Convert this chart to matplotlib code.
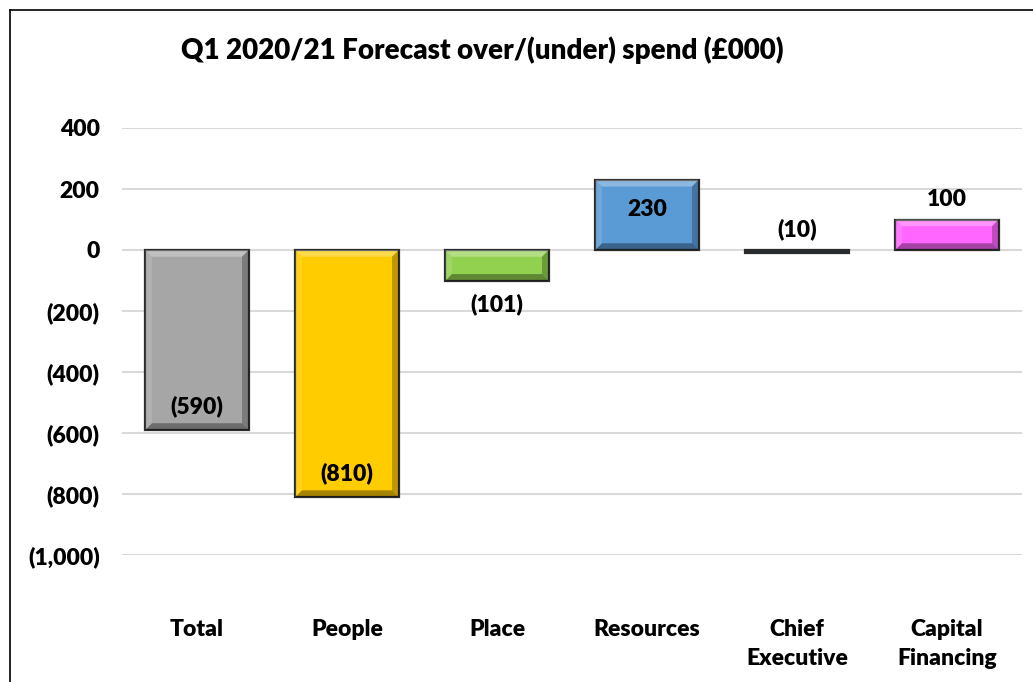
import matplotlib.pyplot as plt
from matplotlib.patches import Polygon
from matplotlib.lines import Line2D

# data
categories = ["Total", "People", "Place", "Resources", "Chief\nExecutive", "Capital\nFinancing"]
values = [-590, -810, -101, 230, -10, 100]
colors = ["#A6A6A6", "#FFCC00", "#92D050", "#5B9BD5", "#1F2A36", "#FF66FF"]
yticks = [400, 200, 0, -200, -400, -600, -800, -1000]
# where each value label sits relative to the bar end (pixels, + is up)
label_offsets = [24, 24, -23, -30, 24, 20]

plt.rcParams['font.family'] = ['Lato', 'DejaVu Sans']

W, H = 1033, 682
fig = plt.figure(figsize=(W / 100, H / 100), dpi=100)
ax = fig.add_axes([122 / W, 1 - 555 / H, 900 / W, 427 / H])

bar_w = 0.69
FS = 16.5
WT = "heavy"


def fmt(v):
    return "({:,})".format(abs(v)) if v < 0 else "{:,}".format(v)


def bevel_bar(ax, x, v, color):
    ax.bar(x, v, width=bar_w, color=color, edgecolor="#2b2b2b", linewidth=1.6, zorder=3)
    if abs(v) < 30:
        return
    x0, x1 = x - bar_w / 2, x + bar_w / 2
    y0, y1 = min(0, v), max(0, v)
    bx = 0.045
    by = min(22, abs(v) / 3)
    top = [(x0, y1), (x1, y1), (x1 - bx, y1 - by), (x0 + bx, y1 - by)]
    bot = [(x0, y0), (x1, y0), (x1 - bx, y0 + by), (x0 + bx, y0 + by)]
    left = [(x0, y0), (x0, y1), (x0 + bx, y1 - by), (x0 + bx, y0 + by)]
    right = [(x1, y0), (x1, y1), (x1 - bx, y1 - by), (x1 - bx, y0 + by)]
    ax.add_patch(Polygon(top, closed=True, color="white", alpha=0.3, lw=0, zorder=4))
    ax.add_patch(Polygon(left, closed=True, color="white", alpha=0.12, lw=0, zorder=4))
    ax.add_patch(Polygon(right, closed=True, color="black", alpha=0.25, lw=0, zorder=4))
    ax.add_patch(Polygon(bot, closed=True, color="black", alpha=0.35, lw=0, zorder=4))


for i, (v, c) in enumerate(zip(values, colors)):
    bevel_bar(ax, i, v, c)
    ax.annotate(fmt(v), xy=(i, v), xytext=(0, label_offsets[i] * 0.72),
                textcoords="offset points", ha="center", va="center",
                fontsize=FS, fontweight=WT, color="black", zorder=6)

ax.set_xlim(-0.5, len(categories) - 0.5)
ax.set_ylim(-1000, 400)
ax.set_yticks(yticks)
ax.set_yticklabels([fmt(t) for t in yticks], fontsize=FS, fontweight=WT)
ax.set_xticks(range(len(categories)))
ax.set_xticklabels(categories, fontsize=FS, fontweight=WT, linespacing=1.5)
ax.tick_params(axis="x", length=0, pad=46)
ax.tick_params(axis="y", length=0, pad=16)
ax.yaxis.grid(True, color="#D9D9D9", linewidth=1.5, zorder=0)
ax.set_axisbelow(True)
for s in ax.spines.values():
    s.set_visible(False)

fig.text(482 / W, 1 - 50 / H, "Q1 2020/21 Forecast over/(under) spend (£000)",
         ha="center", va="center", fontsize=20, fontweight=WT)

# chart frame
fig.add_artist(Line2D([10 / W, 10 / W], [0, 1 - 10 / H], color="black", lw=1.2))
fig.add_artist(Line2D([10 / W, 1], [1 - 10 / H, 1 - 10 / H], color="black", lw=1.2))

fig.savefig("out.png", dpi=100)
